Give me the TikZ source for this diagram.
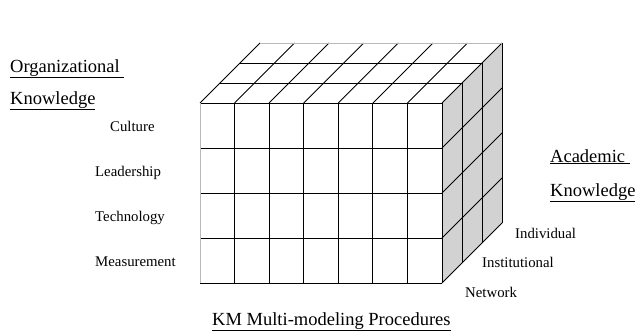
\documentclass[tikz,border=0pt]{standalone}
\usepackage{fontspec}
\setmainfont{Liberation Serif}

\tikzset{
  gridline/.style={draw=black,line width=0.9pt},
  rimline/.style={draw=gray!55,line width=0.9pt},
  sideface/.style={fill=gray!35},
  headlabel/.style={anchor=base west,inner sep=0pt,font=\fontsize{18.5}{20}\selectfont},
  itemlabel/.style={anchor=base west,inner sep=0pt,font=\fontsize{14.8}{16}\selectfont}
}

\begin{document}
\begin{tikzpicture}[x=1pt,y=-1pt]

      \useasboundingbox (0,0) rectangle (638,332);

      \fill[sideface] (442,103) -- (502,43) -- (502,223) -- (442,283) -- cycle;

      \begin{scope}[every path/.style={gridline}]
        % front face
        \draw (200,103) -- (442,103);
        \draw (200,148) -- (442,148);
        \draw (200,193) -- (442,193);
        \draw (200,238) -- (442,238);
        \draw (200,283) -- (442,283);
        \draw (234.6,103) -- (234.6,283);
        \draw (269.1,103) -- (269.1,283);
        \draw (303.7,103) -- (303.7,283);
        \draw (338.3,103) -- (338.3,283);
        \draw (372.9,103) -- (372.9,283);
        \draw (407.4,103) -- (407.4,283);
        \draw (442,103)   -- (442,283);

        % top face
        \draw (200,103)   -- (260,43);
        \draw (234.6,103) -- (294.6,43);
        \draw (269.1,103) -- (329.1,43);
        \draw (303.7,103) -- (363.7,43);
        \draw (338.3,103) -- (398.3,43);
        \draw (372.9,103) -- (432.9,43);
        \draw (407.4,103) -- (467.4,43);
        \draw (442,103)   -- (502,43);
        \draw (220,83) -- (462,83);
        \draw (240,63) -- (482,63);

        % side face
        \draw (462,83) -- (462,263);
        \draw (482,63) -- (482,243);
        \draw (502,43) -- (502,223);
        \draw (442,148) -- (502,88);
        \draw (442,193) -- (502,133);
        \draw (442,238) -- (502,178);
        \draw (442,283) -- (502,223);
      \end{scope}

      \begin{scope}[every path/.style={rimline}]
        \draw (200,103) -- (200,283);
        \draw (260,43) -- (502,43);
      \end{scope}

      \begin{scope}[every node/.style={headlabel}]
        \node (orgtop) at (10,72)   {\underline{Organizational\ }};
        \node (orgbot) at (10,104)  {\underline{Knowledge}};
        \node (acatop) at (550,162) {\underline{Academic\ }};
        \node (acabot) at (550,196) {\underline{Knowledge}};
        \node (proc)   at (212,325) {\underline{KM Multi-modeling Procedures}};
      \end{scope}

      \begin{scope}[every node/.style={itemlabel}]
        \node (cult)  at (110,131) {Culture};
        \node (lead)  at (95,176)  {Leadership};
        \node (tech)  at (95,221)  {Technology};
        \node (meas)  at (95,266)  {Measurement};
        \node (indiv) at (515,238) {Individual};
        \node (inst)  at (482,267) {Institutional};
        \node (netw)  at (465,297) {Network};
      \end{scope}

    \end{tikzpicture}
\end{document}
